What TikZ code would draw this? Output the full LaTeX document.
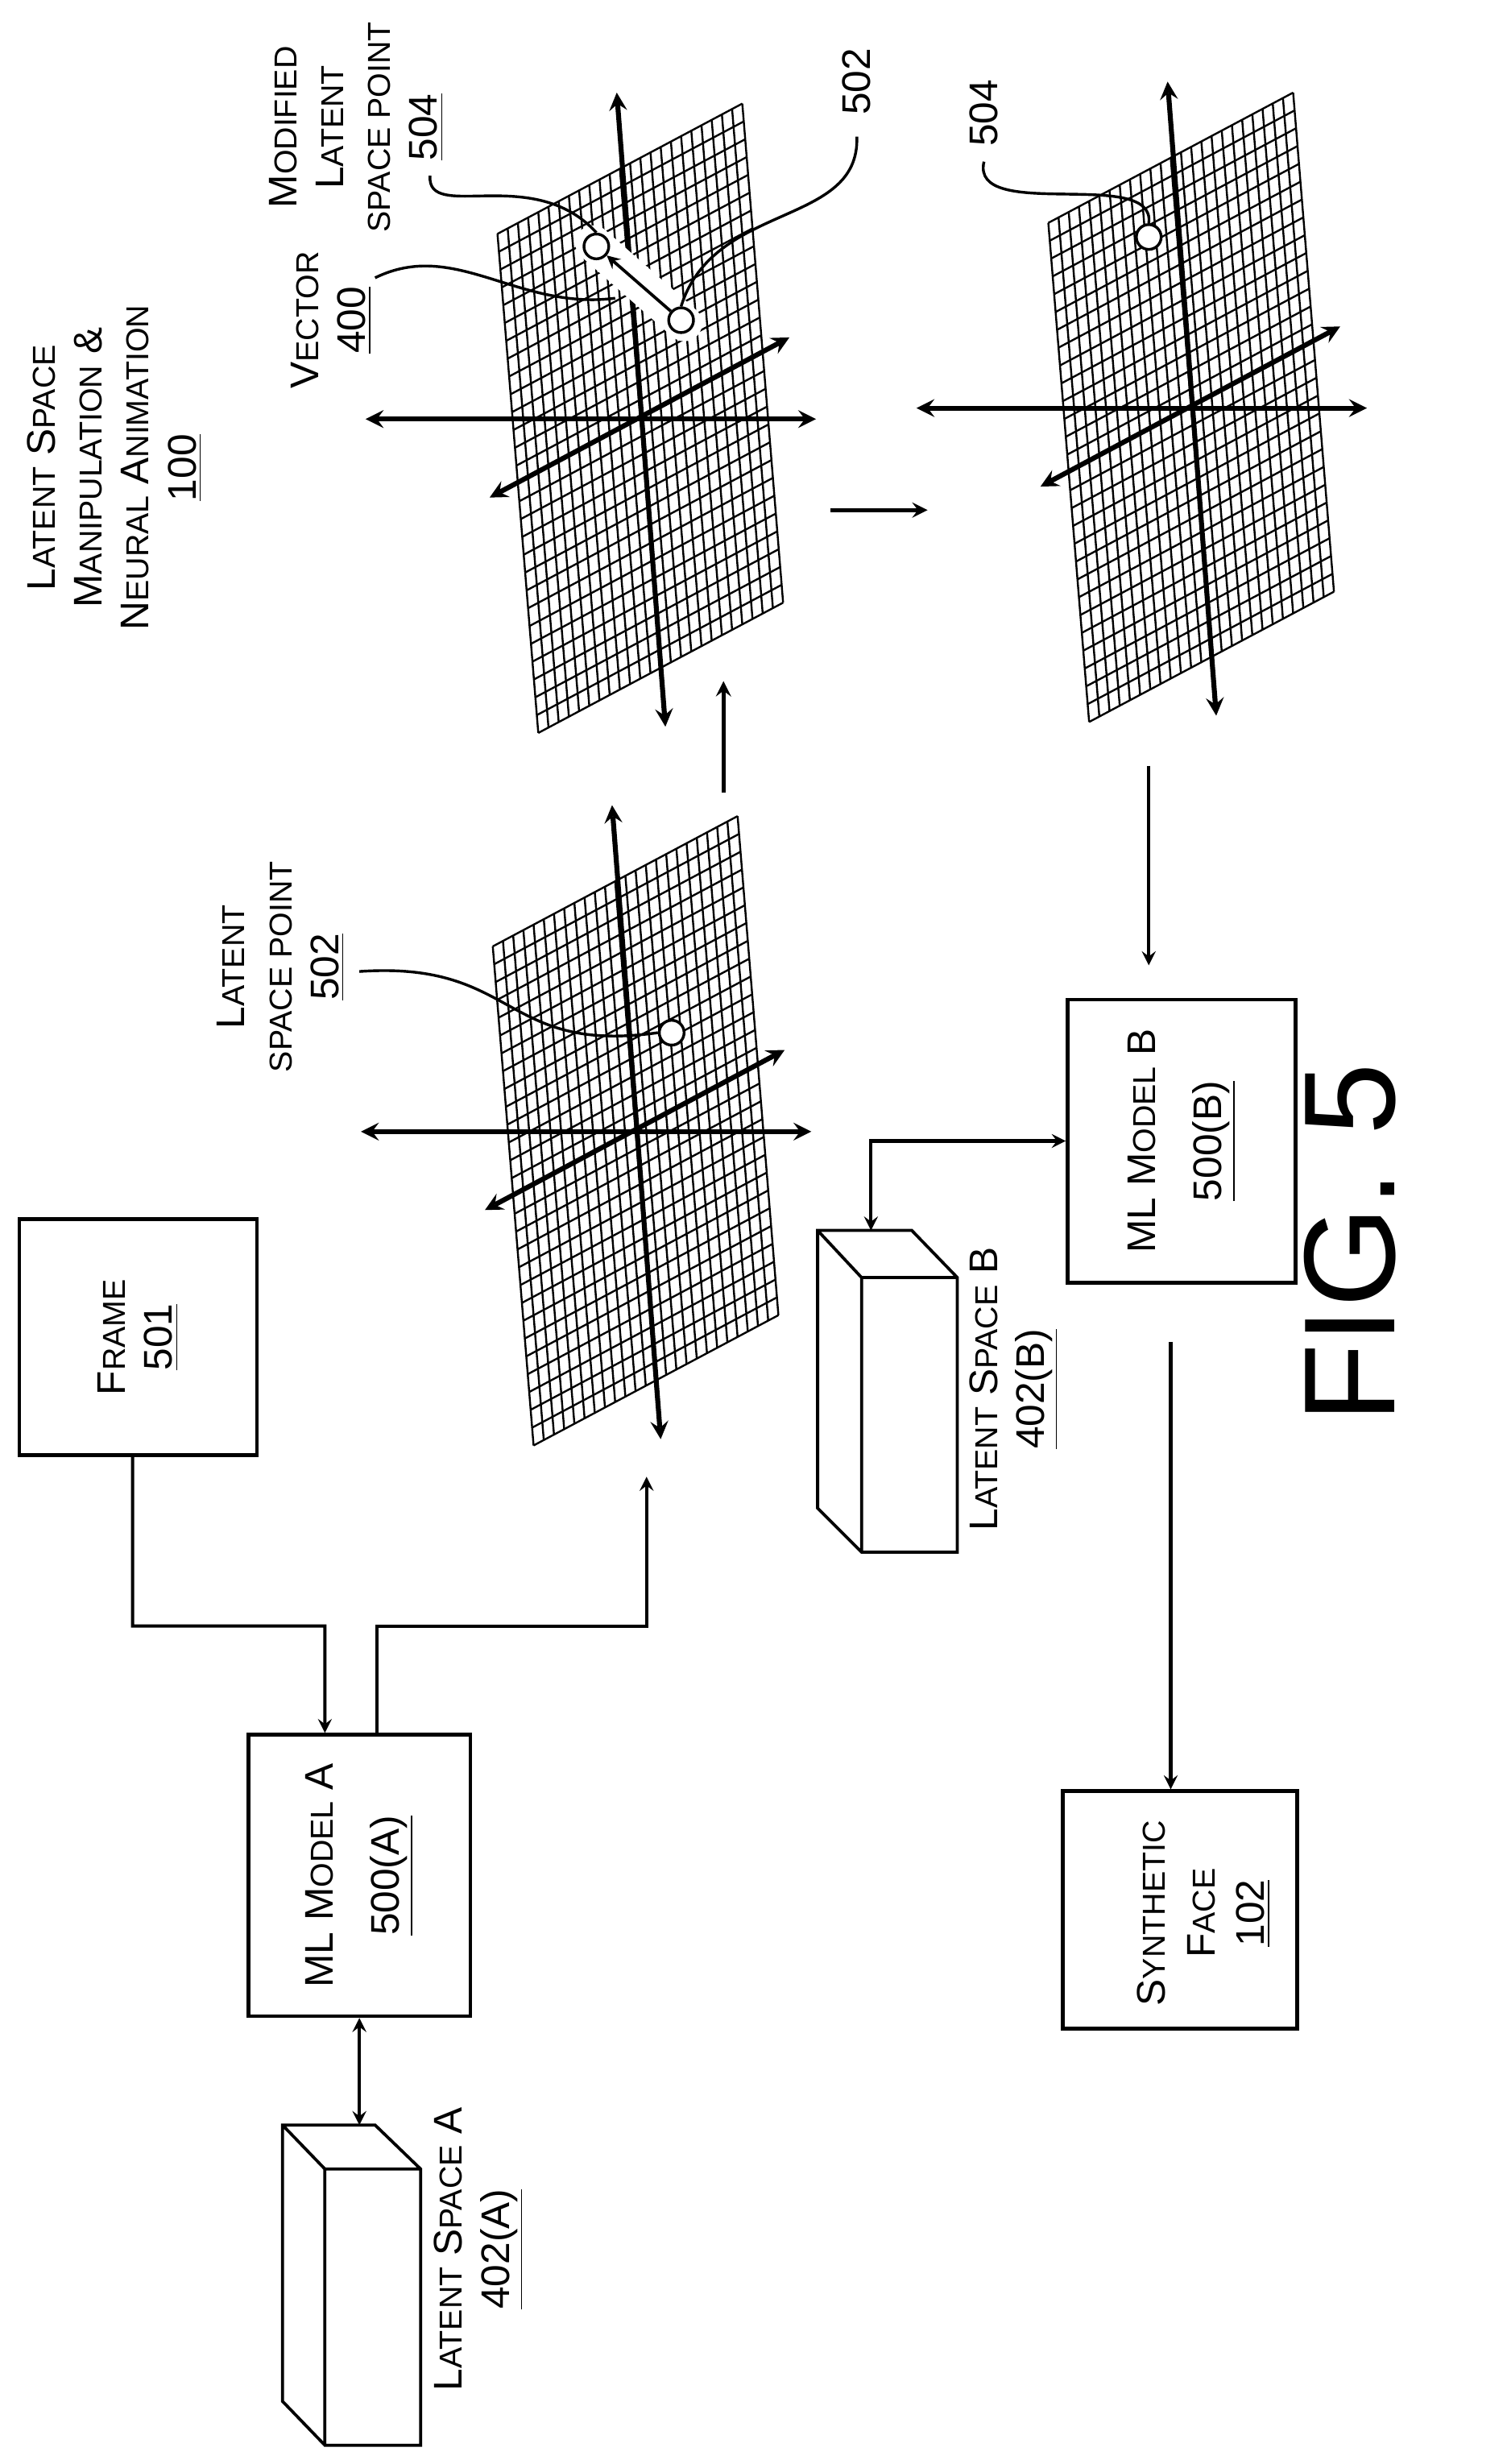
\documentclass[tikz,border=0pt]{standalone}
\usepackage{fontspec}
\setmainfont{Liberation Sans}
\usetikzlibrary{arrows}
\usetikzlibrary{positioning}
\usetikzlibrary{calc}

% small capitals done by hand
\newcommand\lc[1]{{\fontsize{11.5pt}{0pt}\selectfont\MakeUppercase{#1}}}

% one latent space plane with its axes, centred on #1
\newcommand\latentplane[1]{%
  \begin{scope}[shift={#1}]
    \foreach \i in {0,...,24}
      \draw[gridline] ($(-91,-117)+\i/24*(156,-83)$) -- ++(26,318);
    \foreach \j in {0,...,28}
      \draw[gridline] ($(-91,-117)+\j/28*(26,318)$) -- ++(156,-83);
    \draw[axis] (-175,1) -- (112,1);
    \draw[axis] (-15,-207) -- (16,197);
    \draw[axis] (-96,51) -- (95,-51);
  \end{scope}}

\begin{document}
\begin{tikzpicture}[x=0.02cm,y=-0.02cm,>=stealth,
  every node/.style={font=\fontsize{14.5pt}{17pt}\selectfont},
  box/.style={draw,line width=1.4pt,rotate=90,align=center,inner sep=0pt},
  gridline/.style={line width=0.7pt},
  axis/.style={<->,line width=1.8pt},
  flow/.style={->,line width=1.2pt},
  both/.style={<->,line width=1.2pt},
  leader/.style={line width=1pt},
  dot/.style={draw,fill=white,circle,line width=1pt,minimum size=9pt,inner sep=0pt},
  label/.style={rotate=90,align=center}]
\useasboundingbox (0,0) rectangle (960,1570);

% boxes (rotated: east is the top of the page)
\node[box,minimum width=85.6pt,minimum height=86.2pt] (frame) at (88,852) {F\lc{rame}\\\underline{501}};
\node[box,minimum width=102pt,minimum height=80.5pt,font=\fontsize{14.5pt}{24pt}\selectfont] (mlA) at (229,1195) {ML M\lc{odel} A\\\underline{500(A)}};
\node[box,minimum width=102.6pt,minimum height=82.8pt,font=\fontsize{14.5pt}{24pt}\selectfont] (mlB) at (753,727) {ML M\lc{odel} B\\\underline{500(B)}};
\node[box,minimum width=86.2pt,minimum height=85pt] (synth) at (752,1217) {};
\node[label,font=\fontsize{14.5pt}{18pt}\selectfont] (synthtext) at (767,1219) {S\lc{ynthetic}\\F\lc{ace}\\\underline{102}};

% latent space cuboids
\draw[line width=1.1pt] (180,1354) -- (239,1354) -- (268,1382) -- (268,1558) -- (207,1558) -- (180,1530) -- cycle
  (180,1354) -- (207,1382) -- (268,1382) (207,1382) -- (207,1558);
\coordinate (lsAtop) at (229,1354);
\node[label] (lsA) at (305,1433) {L\lc{atent} S\lc{pace} A\\\underline{402(A)}};
\draw[line width=1.1pt] (521,784) -- (581,784) -- (610,814) -- (610,989) -- (549,989) -- (521,961) -- cycle
  (521,784) -- (549,814) -- (610,814) (549,814) -- (549,989);
\coordinate (lsBtop) at (555,784);
\node[label] (lsB) at (646,885) {L\lc{atent} S\lc{pace} B\\\underline{402(B)}};

% planes
\coordinate (g1) at (405,720);
\coordinate (g2) at (408,266);
\coordinate (g3) at (759,259);
\latentplane{(g1)}
\latentplane{(g2)}
\latentplane{(g3)}

% points and vector
\draw[white,line width=13pt,line cap=round] (378,155) -- (436,206);
\node[dot] (p502) at (428,658) {};
\node[dot] (q502) at (434,204) {};
\node[dot] (q504) at (380,157) {};
\node[dot] (r504) at (732,151) {};
\draw[->,line width=1.1pt] (q502) -- (q504);

% texts
\node[label] (title) at (73,298) {L\lc{atent} S\lc{pace}\\M\lc{anipulation} \&\\N\lc{eural} A\lc{nimation}\\\underline{100}};
\node[label] (lbl502) at (179,616) {L\lc{atent}\\\lc{space point}\\\underline{502}};
\node[label] (lblvec) at (211,204) {V\lc{ector}\\\underline{400}};
\node[label] (lbl504) at (227,81) {M\lc{odified}\\L\lc{atent}\\\lc{space point}\\\underline{504}};
\node[label] (num502) at (546,52) {502};
\node[label] (num504) at (627,72) {504};
\node[rotate=90,font=\fontsize{47pt}{47pt}\selectfont] (fig) at (860,792) {FIG. 5};

% leaders
\draw[leader] (229,619) .. controls (330,612) and (320,672) .. (p502.west);
\draw[leader] (239,177) .. controls (290,152) and (330,198) .. (392,190);
\draw[leader] (274,112) .. controls (272,142) and (340,104) .. (q504.north);
\draw[leader] (546,87) .. controls (548,145) and (455,128) .. (q502.north);
\draw[leader] (627,103) .. controls (618,142) and (737,106) .. (r504.north);

% connectors
\coordinate (inG1) at (412,941);
\coordinate (g1top) at (461,505);
\coordinate (g2bot) at (461,434);
\coordinate (g2right) at (529,325);
\coordinate (g3left) at (591,325);
\coordinate (g3bot) at (732,488);
\coordinate (mlBtop) at (732,615);
\coordinate (mlBbot) at (746,855);
\draw[flow] ([xshift=-2pt]frame.west) |- (207,1036) -- ([xshift=-12.5pt]mlA.east);
\draw[flow] ([xshift=6.5pt]mlA.east) |- (412,1036) -- (inG1);
\draw[both] (mlA.west) -- (lsAtop);
\draw[both] (mlB.north) -| (lsBtop);
\draw[flow,line width=1.4pt] (g1top) -- (g2bot);
\draw[flow,line width=1.4pt] (g2right) -- (g3left);
\draw[flow] (g3bot) -- (mlBtop);
\draw[flow] (mlBbot) -- (mlBbot |- synth.east);
\end{tikzpicture}
\end{document}
